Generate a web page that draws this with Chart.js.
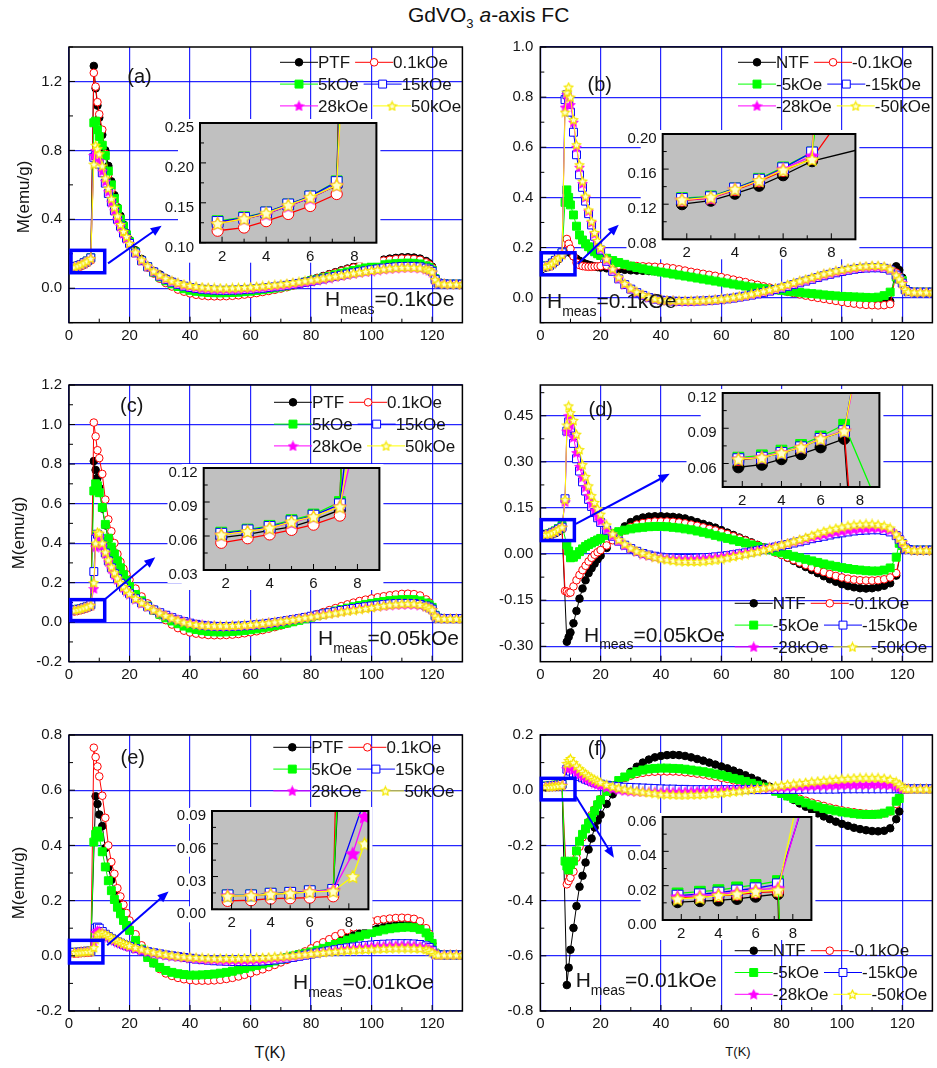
<!DOCTYPE html>
<html>
<head>
<meta charset="utf-8">
<title>GdVO3 a-axis FC</title>
<script src="https://cdn.jsdelivr.net/npm/chart.js@4.4.1/dist/chart.umd.min.js"></script>
<style>
  html, body { margin: 0; padding: 0; background: #fff; }
  body { position: relative; width: 937px; height: 1068px; overflow: hidden;
         font-family: "Liberation Sans", Arial, Helvetica, sans-serif; color: #111; }
  .lbl { position: absolute; white-space: nowrap; z-index: 5; }
  .ytitle { font-size: 17px; line-height: 17px; transform: translate(-50%, -50%) rotate(-90deg); }
</style>
</head>
<body>
<div class="lbl" style="left:408px;top:4px;font-size:21px;line-height:21px;">GdVO<span style="font-size:13px;position:relative;top:6px;">3</span> <i>a</i>-axis FC</div>
<div class="lbl ytitle" style="left:23px;top:197px;">M(emu/g)</div>
<div class="lbl ytitle" style="left:18px;top:533px;">M(emu/g)</div>
<div class="lbl ytitle" style="left:18px;top:883px;">M(emu/g)</div>
<div class="lbl" style="left:270px;top:1053px;font-size:16px;line-height:16px;transform:translate(-50%,-50%);">T(K)</div>
<div class="lbl" style="left:738px;top:1051px;font-size:13px;line-height:13px;transform:translate(-50%,-50%);">T(K)</div>
<script>
// temperature grid shared by every curve (K)
const temps = [1.8,3,4,5,6,7.2, 8.2,8.8,9.4,10, 11,12,13,14,15,16,17,18,19,20,
  22,24,26,28,30,32,34,36,38,40, 42,44,46,48,50,52,54,56,58,60, 62,64,66,68,70,72,74,76,78,80,
  82,84,86,88,90,92,94,96,98,100, 102,104,106,108,110,112,114,116,118, 119,120,121,122, 124,126,128,130];

// (a) Hmeas = 0.1 kOe, positive cooling fields
const aPTF = [.125,.130,.136,.146,.156,.172, 1.29,1.16,1.06,.99, .89,.80,.71,.62,.54,.47,.42,.37,.32,.28, .22,.17,.13,.10,.08,.058,.04,.024,.01,-.002, -.012,-.019,-.024,-.027,-.029,-.03,-.029,-.027,-.024,-.021, -.017,-.012,-.007,-.001,.005,.013,.021,.03,.04,.05, .06,.071,.082,.093,.104,.114,.124,.134,.143,.151, .159,.166,.172,.176,.179,.18,.178,.172,.158, .145,.125,.06,.03, .025,.024,.024,.024];
const a01 = [.115,.119,.127,.136,.146,.161, 1.25,1.17,1.08,1.01, .92,.78,.66,.57,.49,.43,.38,.34,.30,.27, .21,.16,.12,.085,.055,.03,.01,-.008,-.02,-.03, -.038,-.043,-.046,-.047,-.047,-.046,-.044,-.041,-.037,-.033, -.028,-.022,-.016,-.009,-.002,.006,.015,.025,.035,.046, .057,.068,.079,.09,.10,.11,.12,.129,.138,.146, .153,.16,.165,.169,.172,.172,.17,.165,.15, .138,.12,.06,.03, .025,.024,.024,.024];
const a5 = [.127,.132,.138,.148,.158,.177, .96,.97,.92,.88, .83,.77,.68,.60,.52,.46,.40,.36,.31,.27, .21,.16,.125,.092,.065,.043,.025,.01,-.003,-.012, -.018,-.022,-.025,-.026,-.027,-.026,-.025,-.023,-.02,-.017, -.013,-.009,-.004,.001,.007,.013,.02,.027,.035,.043, .051,.06,.069,.078,.087,.095,.103,.111,.118,.125, .131,.136,.14,.143,.145,.146,.145,.141,.13, .12,.105,.055,.03, .025,.024,.024,.024];
const a15 = [.126,.131,.138,.148,.158,.176, .76,.77,.75,.72, .67,.61,.55,.50,.45,.40,.36,.32,.29,.26, .205,.16,.125,.095,.07,.05,.035,.022,.012,.004, -.002,-.006,-.009,-.011,-.012,-.012,-.011,-.01,-.008,-.006, -.003,0,.004,.008,.012,.017,.022,.028,.034,.04, .047,.054,.061,.068,.075,.082,.089,.095,.101,.107, .112,.117,.121,.124,.126,.127,.127,.124,.117, .11,.098,.05,.03, .025,.024,.024,.024];
const a28 = [.124,.130,.136,.146,.156,.172, .77,.80,.78,.74, .68,.62,.56,.50,.45,.40,.36,.32,.29,.26, .205,.16,.126,.097,.073,.054,.039,.027,.017,.009, .003,-.001,-.004,-.006,-.007,-.007,-.006,-.005,-.003,-.001, .002,.005,.008,.012,.016,.02,.025,.03,.035,.041, .047,.053,.059,.066,.072,.078,.084,.09,.095,.10, .105,.109,.113,.116,.118,.119,.118,.116,.11, .104,.093,.048,.03, .025,.024,.024,.024];
const a50 = [.124,.130,.137,.147,.157,.172, .72,.83,.81,.78, .71,.64,.58,.52,.47,.42,.37,.33,.30,.26, .21,.165,.13,.10,.077,.058,.043,.032,.023,.016, .011,.007,.004,.002,.001,.001,.002,.003,.005,.007, .01,.013,.016,.02,.024,.028,.033,.038,.043,.048, .053,.059,.065,.07,.076,.082,.088,.093,.098,.103, .108,.112,.116,.119,.121,.122,.121,.118,.112, .106,.095,.05,.03, .025,.024,.024,.024];

// (b) Hmeas = 0.1 kOe, negative cooling fields
const bNTF = [.120,.124,.132,.141,.153,.169, null,null,.184,.178, .165,.155,.147,.14,.135,.131,.128,.125,.122,.12, .117,.115,.113,.111,.109,.108,.107,.106,.105,.104, .102,.099,.096,.093,.09,.087,.083,.079,.075,.071, .067,.063,.059,.055,.05,.046,.042,.038,.033,.029, .025,.021,.017,.013,.009,.005,.001,-.003,-.006,-.009, -.012,-.015,-.017,-.019,-.02,-.02,-.019,-.015,.125, .11,.08,.035,.025, .022,.022,.022,.022];
const b01 = [.124,.127,.136,.146,.158,.172, null,.234,.215,.195, .165,.14,.13,.126,.124,.123,.123,.124,.125,.126, .127,.128,.128,.128,.127,.126,.125,.124,.123,.122, .12,.117,.113,.108,.103,.099,.095,.091,.087,.082, .077,.072,.067,.062,.056,.051,.045,.04,.034,.029, .023,.018,.013,.008,.003,-.001,-.005,-.009,-.013,-.017, -.021,-.024,-.027,-.029,-.03,-.031,-.03,-.026,.10, .085,.07,.035,.025, .022,.022,.022,.022];
const b5 = [.127,.129,.138,.149,.162,.179, .38,.43,.40,.37, .33,.285,.25,.23,.215,.203,.192,.183,.175,.168, .157,.148,.14,.133,.126,.12,.115,.11,.106,.102, .098,.094,.09,.086,.082,.078,.074,.07,.066,.062, .058,.054,.05,.046,.042,.039,.036,.033,.031,.029, .026,.023,.021,.018,.016,.014,.011,.009,.007,.005, .004,.003,.002,.001,0,.002,.008,.022,.082, .075,.068,.032,.024, .022,.022,.022,.022];
const b15 = [.126,.128,.138,.148,.161,.179, .79,.81,.78,.74, .66,.57,.49,.44,.385,.335,.29,.245,.215,.19, .145,.105,.075,.052,.034,.02,.009,0,-.006,-.01, -.012,-.014,-.015,-.015,-.015,-.014,-.013,-.012,-.01,-.008, -.005,-.002,.002,.006,.01,.015,.02,.026,.032,.038, .045,.052,.059,.066,.073,.08,.087,.093,.099,.104, .109,.113,.116,.118,.119,.119,.117,.11,.09, .075,.058,.032,.024, .022,.022,.022,.022];
const b28 = [.125,.127,.137,.147,.16,.175, .76,.81,.80,.77, .70,.60,.52,.455,.40,.345,.30,.255,.222,.195, .15,.11,.078,.054,.035,.021,.01,.001,-.005,-.009, -.011,-.013,-.014,-.014,-.014,-.013,-.012,-.01,-.008,-.006, -.003,0,.004,.008,.013,.018,.023,.029,.035,.042, .049,.056,.063,.07,.077,.084,.091,.097,.103,.108, .113,.117,.12,.122,.123,.123,.121,.114,.092, .077,.06,.032,.024, .022,.022,.022,.022];
const b50 = [.125,.128,.137,.147,.159,.171, .74,.82,.84,.80, .71,.61,.53,.465,.405,.35,.305,.26,.228,.20, .155,.115,.082,.057,.038,.023,.012,.003,-.004,-.008, -.01,-.011,-.012,-.012,-.012,-.011,-.01,-.009,-.007,-.005, -.002,.002,.006,.01,.015,.02,.026,.032,.038,.045, .052,.06,.067,.074,.081,.088,.095,.101,.107,.112, .117,.121,.124,.126,.128,.128,.125,.115,.09, .075,.057,.032,.024, .022,.022,.022,.022];

// (c) Hmeas = 0.05 kOe, positive cooling fields
const cPTF = [.0586,.0614,.065,.068,.074,.083, .815,.77,.73,.68, .575,.49,.42,.375,.34,.305,.27,.237,.207,.178, .135,.105,.08,.058,.04,.022,.007,-.006,-.017,-.026, -.033,-.038,-.041,-.043,-.044,-.044,-.043,-.041,-.038,-.035, -.031,-.026,-.021,-.015,-.009,-.002,.005,.012,.02,.028, .036,.044,.052,.06,.068,.076,.083,.09,.097,.103, .108,.113,.117,.12,.122,.122,.12,.113,.10, .09,.075,.035,.02, .018,.018,.018,.018];
const c01 = [.054,.058,.0614,.0654,.070,.078, 1.01,.94,.87,.83, .75,.62,.52,.46,.40,.345,.305,.27,.242,.215, .17,.13,.095,.065,.035,.01,-.012,-.03,-.043,-.052, -.058,-.062,-.065,-.066,-.066,-.065,-.063,-.06,-.056,-.051, -.046,-.04,-.033,-.025,-.017,-.008,.001,.011,.021,.031, .041,.051,.061,.071,.081,.09,.099,.107,.114,.12, .126,.131,.136,.14,.143,.144,.142,.135,.115, .10,.077,.035,.02, .018,.018,.018,.018];
const c5 = [.063,.0657,.069,.074,.079,.09, .664,.70,.69,.655, .58,.495,.425,.38,.345,.31,.275,.24,.21,.18, .14,.108,.082,.06,.04,.022,.006,-.008,-.02,-.03, -.037,-.043,-.047,-.049,-.05,-.049,-.047,-.045,-.042,-.038, -.034,-.029,-.024,-.018,-.012,-.005,.002,.009,.017,.025, .033,.041,.049,.057,.064,.071,.078,.084,.09,.095, .10,.105,.109,.112,.114,.115,.114,.108,.097, .088,.075,.035,.02, .018,.018,.018,.018];
const c15 = [.062,.065,.068,.073,.078,.088, .256,.42,.445,.435, .39,.35,.31,.275,.245,.22,.197,.177,.16,.144, .118,.097,.078,.062,.048,.035,.023,.012,.003,-.005, -.011,-.016,-.019,-.021,-.022,-.022,-.021,-.02,-.018,-.016, -.013,-.01,-.006,-.002,.003,.008,.013,.018,.024,.03, .036,.042,.048,.053,.059,.064,.069,.074,.078,.082, .086,.089,.092,.094,.095,.095,.094,.09,.082, .076,.066,.032,.02, .018,.018,.018,.018];
const c28 = [.061,.064,.067,.072,.077,.086, .17,.38,.44,.43, .385,.345,.305,.27,.24,.215,.193,.174,.157,.142, .117,.096,.078,.062,.048,.036,.024,.013,.004,-.004, -.01,-.014,-.017,-.019,-.02,-.02,-.019,-.018,-.016,-.014, -.011,-.008,-.004,0,.004,.009,.014,.019,.024,.029, .035,.04,.045,.05,.055,.06,.065,.069,.073,.077, .08,.083,.086,.088,.089,.09,.089,.086,.079, .073,.064,.031,.02, .018,.018,.018,.018];
const c50 = [.061,.064,.067,.0726,.077,.0857, .20,.40,.455,.45, .40,.355,.315,.28,.25,.223,.20,.18,.162,.146, .12,.098,.079,.062,.047,.033,.021,.01,0,-.007, -.012,-.015,-.017,-.018,-.018,-.018,-.017,-.016,-.014,-.012, -.009,-.006,-.003,.001,.005,.009,.013,.018,.023,.027, .032,.037,.042,.047,.052,.057,.061,.066,.07,.074, .08,.084,.088,.091,.093,.094,.093,.089,.08, .072,.063,.031,.02, .018,.018,.018,.018];

// (d) Hmeas = 0.05 kOe, negative cooling fields
const dNTF = [.0568,.059,.0637,.068,.0738,.081, null,-.285,-.27,-.255, -.225,-.185,-.145,-.112,-.085,-.062,-.046,-.031,-.017,-.005, .02,.047,.072,.09,.104,.113,.119,.122,.123,.123, .122,.121,.119,.116,.11,.104,.098,.092,.086,.078, .07,.062,.054,.046,.038,.03,.022,.014,.006,-.002, -.012,-.022,-.032,-.042,-.052,-.062,-.072,-.082,-.09,-.098, -.104,-.108,-.111,-.112,-.111,-.108,-.103,-.095,-.07, null,.03,.02,.015, .013,.013,.013,.013];
const d01 = [.063,.065,.069,.0738,.081,.0876, -.12,-.122,-.127,-.125, -.105,-.085,-.068,-.052,-.038,-.024,-.012,-.002,.006,.013, .028,.045,.062,.077,.088,.096,.101,.104,.106,.106, .106,.105,.103,.10,.096,.092,.087,.082,.077,.071, .065,.058,.051,.044,.036,.029,.021,.013,.005,-.003, -.011,-.019,-.027,-.035,-.043,-.051,-.058,-.065,-.071,-.076, -.08,-.083,-.085,-.086,-.086,-.085,-.082,-.076,-.062, null,.03,.02,.015, .013,.013,.013,.013];
const d5 = [.065,.067,.071,.0758,.083,.093, null,.03,.01,-.012, -.01,-.002,.008,.017,.025,.031,.036,.041,.046,.051, .06,.067,.073,.078,.082,.085,.087,.089,.09,.09, .089,.087,.085,.082,.079,.075,.071,.066,.061,.056, .051,.046,.041,.036,.03,.025,.02,.014,.009,.004, -.001,-.007,-.012,-.017,-.022,-.027,-.032,-.036,-.04,-.044, -.047,-.05,-.052,-.054,-.055,-.055,-.052,-.045,-.01, .035,.028,.018,.015, .013,.013,.013,.013];
const d15 = [.0637,.065,.069,.0738,.081,.0876, .18,.40,.43,.41, .36,.31,.27,.235,.205,.178,.155,.135,.118,.103, .078,.058,.042,.029,.018,.009,.002,-.003,-.007,-.01, -.012,-.013,-.014,-.014,-.014,-.013,-.012,-.011,-.009,-.007, -.005,-.002,.001,.004,.007,.011,.015,.019,.023,.027, .031,.036,.04,.045,.05,.054,.058,.062,.066,.069, .072,.075,.077,.078,.079,.079,.077,.072,.06, .048,.035,.02,.015, .013,.013,.013,.013];
const d28 = [.064,.0655,.0695,.074,.0815,.088, .17,.40,.45,.42, .38,.33,.285,.25,.218,.19,.165,.143,.124,.108, .081,.06,.043,.029,.018,.008,0,-.005,-.009,-.012, -.014,-.015,-.016,-.016,-.016,-.015,-.014,-.012,-.01,-.008, -.005,-.002,.001,.005,.009,.013,.017,.021,.026,.03, .035,.04,.045,.05,.055,.06,.064,.068,.072,.075, .078,.081,.083,.084,.085,.085,.083,.078,.065, .052,.038,.02,.015, .013,.013,.013,.013];
const d50 = [.0637,.065,.069,.0738,.081,.0876, .177,.42,.482,.46, .435,.39,.34,.291,.252,.222,.19,.168,.148,.13, .095,.066,.047,.033,.02,.01,.003,-.004,-.01,-.015, -.018,-.021,-.023,-.024,-.024,-.024,-.023,-.021,-.019,-.016, -.012,-.008,-.004,0,.004,.008,.013,.018,.024,.03, .036,.042,.048,.054,.061,.068,.074,.079,.084,.088, .092,.095,.097,.098,.098,.096,.092,.085,.065, .052,.041,.022,.015, .013,.013,.013,.013];

// (e) Hmeas = 0.01 kOe, positive cooling fields
const ePTF = [.0125,.0127,.014,.0148,.0163,.0175, null,.578,.55,.512, .47,.39,.32,.275,.235,.20,.17,.142,.117,.094, .055,.022,-.005,-.027,-.043,-.054,-.062,-.068,-.072,-.075, -.077,-.077,-.076,-.074,-.071,-.067,-.062,-.057,-.051,-.045, -.037,-.031,-.025,-.018,-.012,-.005,.001,.007,.013,.019, .026,.034,.042,.05,.058,.066,.074,.081,.088,.094, .099,.104,.108,.111,.112,.112,.109,.102,.088, .07,.045,.01,.004, .003,.003,.003,.003];
const e01 = [.0077,.0083,.0098,.0101,.0107,.0119, .754,.72,.686,.65, .58,.50,.40,.34,.297,.245,.215,.185,.155,.128, .078,.038,.006,-.024,-.048,-.064,-.073,-.08,-.085,-.088, -.09,-.09,-.09,-.089,-.087,-.084,-.08,-.075,-.069,-.063, -.056,-.049,-.041,-.033,-.024,-.015,-.005,.005,.016,.027, .038,.049,.06,.071,.082,.093,.103,.112,.119,.125, .129,.132,.135,.137,.138,.137,.134,.125,.10, .08,.045,.01,.004, .003,.003,.003,.003];
const e5 = [.0128,.0128,.0143,.0151,.0166,.0178, .412,.44,.452,.43, .377,.322,.272,.236,.204,.176,.152,.128,.11,.092, .056,.024,-.006,-.026,-.042,-.053,-.06,-.065,-.068,-.07, -.07,-.069,-.068,-.066,-.063,-.06,-.056,-.051,-.046,-.04, -.035,-.03,-.025,-.019,-.013,-.007,-.001,.004,.009,.014, .02,.027,.034,.041,.049,.057,.064,.071,.078,.084, .089,.094,.098,.101,.103,.104,.102,.096,.083, .07,.045,.01,.004, .003,.003,.003,.003];
const e15 = [.0128,.0128,.0143,.0151,.0166,.0178, null,.10,.104,.10, .088,.078,.07,.063,.057,.051,.046,.041,.037,.033, .026,.02,.015,.011,.007,.003,0,-.003,-.006,-.009, -.012,-.014,-.016,-.018,-.019,-.02,-.021,-.021,-.021,-.021, -.02,-.019,-.017,-.015,-.012,-.009,-.006,-.002,.002,.006, .01,.014,.018,.022,.026,.029,.032,.035,.037,.039, .041,.042,.043,.044,.044,.044,.043,.041,.036, .03,.02,.006,.003, .003,.003,.003,.003];
const e28 = [.0125,.0127,.014,.0148,.0163,.0175, .051,.085,.092,.09, .083,.075,.068,.061,.055,.05,.045,.04,.036,.032, .025,.019,.014,.01,.006,.002,-.001,-.004,-.006,-.008, -.01,-.012,-.013,-.014,-.015,-.016,-.016,-.016,-.016,-.015, -.014,-.013,-.011,-.009,-.007,-.004,-.001,.002,.005,.008, .011,.014,.017,.02,.023,.026,.028,.03,.032,.034, .035,.036,.037,.038,.038,.038,.037,.035,.031, .026,.018,.006,.003, .003,.003,.003,.003];
const e50 = [.012,.0125,.0138,.0146,.016,.0166, .03,.06,.075,.082, .083,.078,.072,.066,.06,.055,.05,.045,.041,.037, .03,.024,.018,.013,.009,.005,.002,-.001,-.003,-.005, -.006,-.007,-.008,-.009,-.009,-.009,-.009,-.009,-.008,-.008, -.007,-.006,-.005,-.003,-.002,0,.002,.004,.006,.008, .01,.012,.014,.016,.018,.02,.021,.022,.023,.024, .025,.026,.027,.028,.028,.028,.027,.026,.023, .019,.013,.005,.003, .003,.003,.003,.003];

// (f) Hmeas = 0.01 kOe, negative cooling fields
const fNTF = [.0104,.011,.0114,.0123,.0136,.0151, null,-.706,-.643,-.578, -.499,-.42,-.35,-.31,-.262,-.215,-.175,-.135,-.11,-.089, -.05,-.015,.017,.045,.067,.085,.10,.111,.119,.124, .127,.128,.127,.124,.119,.113,.107,.10,.093,.086, .079,.071,.063,.054,.045,.035,.024,.013,.002,-.01, -.022,-.035,-.048,-.06,-.072,-.084,-.095,-.105,-.114,-.122, -.129,-.136,-.141,-.145,-.148,-.149,-.147,-.138,-.105, -.077,.005,.005,.005, .005,.005,.005,.005];
const f01 = [.013,.0135,.014,.0148,.016,.0165, null,-.341,-.329,-.317, -.295,-.245,-.205,-.171,-.14,-.115,-.09,-.07,-.05,-.032, -.005,.017,.033,.045,.053,.059,.063,.066,.067,.068, .068,.068,.067,.065,.063,.06,.057,.053,.049,.045, .041,.036,.031,.026,.021,.015,.009,.003,-.003,-.01, -.017,-.024,-.031,-.038,-.045,-.051,-.057,-.063,-.068,-.073, -.077,-.08,-.083,-.085,-.086,-.086,-.084,-.077,-.05, -.03,.005,.005,.005, .005,.005,.005,.005];
const f5 = [.0155,.0165,.0174,.019,.0204,.0227, -.257,-.275,-.289,-.27, -.257,-.22,-.185,-.16,-.14,-.12,-.10,-.075,-.053,-.035, -.004,.017,.035,.048,.059,.067,.073,.077,.079,.08, .08,.079,.078,.076,.073,.07,.067,.063,.059,.055, .049,.043,.038,.032,.025,.018,.011,.004,-.004,-.012, -.021,-.03,-.038,-.046,-.053,-.06,-.066,-.071,-.075,-.079, -.082,-.085,-.087,-.088,-.088,-.087,-.083,-.075,-.04, -.03,.005,.005,.005, .005,.005,.005,.005];
const f15 = [.0142,.015,.016,.0172,.0185,.0208, null,.076,.072,.069, .062,.056,.05,.045,.04,.036,.032,.028,.025,.022, .018,.015,.013,.011,.01,.009,.008,.007,.006,.005, .004,.004,.003,.003,.002,.002,.002,.002,.002,.002, .002,.002,.002,.002,.002,.002,.002,.003,.003,.003, .003,.003,.003,.004,.004,.004,.004,.004,.004,.005, .005,.005,.005,.005,.005,.005,.005,.005,.005, .005,.005,.005,.005, .005,.005,.005,.005];
const f28 = [.0136,.014,.015,.0162,.0175,.0185, null,.078,.085,.083, .074,.065,.057,.05,.043,.037,.031,.026,.021,.017, .01,.005,.001,-.002,-.004,-.005,-.006,-.006,-.006,-.006, -.006,-.006,-.005,-.005,-.004,-.003,-.002,-.001,0,.001, .002,.003,.004,.005,.006,.007,.008,.009,.01,.011, .012,.013,.014,.015,.016,.017,.018,.018,.019,.019, .02,.02,.02,.02,.021,.021,.02,.019,.015, .01,.005,.005,.005, .005,.005,.005,.005];
const f50 = [.0123,.013,.0142,.0152,.0167,.0174, null,.097,.108,.115, .10,.088,.078,.068,.06,.052,.045,.039,.034,.029, .02,.013,.008,.004,0,-.003,-.006,-.009,-.011,-.014, -.015,-.016,-.017,-.017,-.016,-.016,-.015,-.013,-.012,-.01, -.008,-.005,-.003,0,.003,.006,.009,.012,.015,.018, .021,.023,.026,.028,.031,.033,.035,.037,.039,.041, .042,.044,.045,.045,.045,.045,.043,.039,.03, .022,.012,.006,.005, .005,.005,.005,.005];

const namesPos = ['PTF', '0.1kOe', '5kOe', '15kOe', '28kOe', '50kOe'];
const namesNeg = ['NTF', '-0.1kOe', '-5kOe', '-15kOe', '-28kOe', '-50kOe'];

const xTicks = [0, 20, 40, 60, 80, 100, 120];
const insetXTicks = [2, 4, 6, 8];
const yTicksA = [0, 0.4, 0.8, 1.2];
const yTicksB = [0, 0.2, 0.4, 0.6, 0.8, 1.0];
const yTicksC = [-0.2, 0, 0.2, 0.4, 0.6, 0.8, 1.0, 1.2];
const yTicksD = [-0.3, -0.15, 0, 0.15, 0.3, 0.45];
const yTicksE = [-0.2, 0, 0.2, 0.4, 0.6, 0.8];
const yTicksF = [-0.8, -0.6, -0.4, -0.2, 0, 0.2];
const insetTicksA = [0.10, 0.15, 0.20, 0.25];
const insetTicksB = [0.08, 0.12, 0.16, 0.20];
const insetTicksC = [0.03, 0.06, 0.09, 0.12];
const insetTicksD = [0.06, 0.09, 0.12];
const insetTicksE = [0, 0.03, 0.06, 0.09];
const insetTicksF = [0, 0.02, 0.04, 0.06];

const FONT = '"Liberation Sans", Arial, Helvetica, sans-serif';
const GRID = 'rgba(0,0,255,0.85)';
const INK = '#151515';

// marker looks for the six curves of every panel
const looks = [
  {line: '#000000', shape: 'circle', fill: '#000000', edge: '#000000'},
  {line: '#ff0000', shape: 'circle', fill: '#ffffff', edge: '#ff0000'},
  {line: '#00ff00', shape: 'rect',   fill: '#00ff00', edge: '#00ff00'},
  {line: '#0000ff', shape: 'rect',   fill: '#ffffff', edge: '#0000ff'},
  {line: '#ff00ff', shape: 'star',   fill: '#ff00ff', edge: '#ff00ff'},
  {line: '#ffff00', shape: 'star',   fill: '#ffffd0', edge: '#f5e800'},
];
const sizes = {
  main:  {circle: 3.8, rect: 5.6, star: 11},
  inset: {circle: 5.6, rect: 7.6, star: 15},
};

function starCanvas(size, fill, stroke) {
  const c = document.createElement('canvas');
  c.width = c.height = size;
  const g = c.getContext('2d');
  const r = size / 2 - 1, cx = size / 2, cy = size / 2 + r * 0.1;
  g.beginPath();
  for (let i = 0; i < 10; i++) {
    const ang = -Math.PI / 2 + i * Math.PI / 5;
    const rr = i % 2 ? r * 0.5 : r;
    g.lineTo(cx + rr * Math.cos(ang), cy + rr * Math.sin(ang));
  }
  g.closePath();
  g.fillStyle = fill; g.fill();
  g.lineWidth = 1.2; g.strokeStyle = stroke; g.stroke();
  return c;
}
const starImgs = {main: [], inset: []};
for (const kind of ['main', 'inset']) {
  looks.forEach((lk, i) => {
    starImgs[kind][i] = lk.shape === 'star' ? starCanvas(sizes[kind].star, lk.fill, lk.edge) : null;
  });
}

function marker(ctx, i, x, y, kind) {
  const lk = looks[i], r = sizes[kind][lk.shape];
  if (lk.shape === 'star') {
    const im = starImgs[kind][i];
    ctx.drawImage(im, x - im.width / 2, y - im.height / 2);
    return;
  }
  ctx.beginPath();
  if (lk.shape === 'circle') ctx.arc(x, y, r, 0, Math.PI * 2);
  else { const s = r * Math.SQRT1_2; ctx.rect(x - s, y - s, 2 * s, 2 * s); }
  ctx.fillStyle = lk.fill; ctx.fill();
  ctx.lineWidth = 1; ctx.strokeStyle = lk.edge; ctx.stroke();
}

function datasets(series, kind) {
  return series.map((vals, i) => {
    const lk = looks[i];
    return {
      data: temps.map((t, k) => ({x: t, y: vals[k]})),
      borderColor: lk.line,
      borderWidth: kind === 'main' ? 1 : 1.3,
      backgroundColor: lk.fill,
      pointBackgroundColor: lk.fill,
      pointBorderColor: lk.edge,
      pointBorderWidth: 1,
      pointStyle: lk.shape === 'star' ? starImgs[kind][i] : lk.shape,
      pointRadius: lk.shape === 'star' ? 5 : sizes[kind][lk.shape],
      tension: 0,
      spanGaps: true,
      order: 5 - i,
    };
  });
}

function drawArrow(ctx, x0, y0, x1, y1) {
  const ang = Math.atan2(y1 - y0, x1 - x0), head = 11, half = 4.5;
  const c = Math.cos(ang), s = Math.sin(ang);
  ctx.strokeStyle = '#0000ff'; ctx.fillStyle = '#0000ff'; ctx.lineWidth = 2;
  ctx.beginPath(); ctx.moveTo(x0, y0); ctx.lineTo(x1 - head * 0.8 * c, y1 - head * 0.8 * s); ctx.stroke();
  ctx.beginPath();
  ctx.moveTo(x1, y1);
  ctx.lineTo(x1 - head * c + half * s, y1 - head * s - half * c);
  ctx.lineTo(x1 - head * c - half * s, y1 - head * s + half * c);
  ctx.closePath(); ctx.fill();
}

function drawLegend(ctx, x0, y0, names) {
  ctx.font = '17px ' + FONT;
  ctx.textBaseline = 'middle'; ctx.textAlign = 'left';
  for (let r = 0; r < 3; r++) {
    let cx = x0;
    const cy = y0 + r * 21.8;
    for (let c = 0; c < 2; c++) {
      const i = r * 2 + c;
      ctx.strokeStyle = looks[i].line; ctx.lineWidth = 1;
      ctx.beginPath(); ctx.moveTo(cx, cy); ctx.lineTo(cx + 38, cy); ctx.stroke();
      marker(ctx, i, cx + 19, cy, 'main');
      ctx.fillStyle = INK;
      ctx.fillText(names[i], cx + 38, cy + 1);
      cx += 38 + ctx.measureText(names[i]).width + 5;
    }
  }
}

function inwardTicks(ctx, a, y, ticks, minor, ymin, ymax, x, xMajor, xMinor, xMax) {
  ctx.beginPath();
  for (let v = xMinor; v < xMax - 1e-9; v += xMinor) {
    const px = x.getPixelForValue(v);
    if (px <= a.left + 1) continue;
    const len = Math.abs(v / xMajor - Math.round(v / xMajor)) < 1e-9 ? 6 : 4;
    ctx.moveTo(px, a.bottom); ctx.lineTo(px, a.bottom - len);
  }
  const base = ticks[0];
  for (let k = -40; k <= 40; k++) {
    const v = base + k * minor;
    if (v < ymin - 1e-9 || v > ymax + 1e-9) continue;
    const py = y.getPixelForValue(v);
    const major = ticks.some(t => Math.abs(t - v) < 1e-9);
    ctx.moveTo(a.left, py); ctx.lineTo(a.left + (major ? 6 : 4), py);
  }
  ctx.stroke();
}

function addCanvas(left, top, w, h, z) {
  const c = document.createElement('canvas');
  c.width = w; c.height = h;
  c.style.cssText = 'position:absolute;left:' + left + 'px;top:' + top + 'px;width:' + w + 'px;height:' + h + 'px;z-index:' + z + ';';
  document.body.appendChild(c);
  return c;
}

const panels = [
  {key: 'a', area: [69, 45.7, 466, 322.7], ymin: -0.2, ymax: 1.4, yTicks: yTicksA, yMinor: 0.2, digits: 1,
   series: [aPTF, a01, a5, a15, a28, a50], names: namesPos, legend: [280, 62.3], tag: [139.5, 77], hm: [325, 306, '0.1kOe'],
   box: [0.66, 11.8, 0.09, 0.22], arrow: [12.9, 0.144, 30.6, 0.363],
   inset: {area: [200, 120.7, 378.3, 242.7], ymin: 0.10, ymax: 0.25, yTicks: insetTicksA, yMinor: 0.025}},
  {key: 'b', area: [540.3, 45.7, 936, 322.7], ymin: -0.1, ymax: 1.0, yTicks: yTicksB, yMinor: 0.1, digits: 1,
   series: [bNTF, b01, b5, b15, b28, b50], names: namesNeg, legend: [738, 62.3], tag: [599.7, 85], hm: [547, 308, '0.1kOe'],
   box: [0.33, 11.5, 0.091, 0.179], arrow: [12.4, 0.134, 26.0, 0.291],
   inset: {area: [662.7, 131.7, 857.3, 239.3], ymin: 0.08, ymax: 0.20, yTicks: insetTicksB, yMinor: 0.02}},
  {key: 'c', area: [69, 383.3, 466, 661.7], ymin: -0.2, ymax: 1.2, yTicks: yTicksC, yMinor: 0.1, digits: 1,
   series: [cPTF, c01, c5, c15, c28, c50], names: namesPos, legend: [274, 402.3], tag: [131.7, 406.7], hm: [318, 645, '0.05kOe'],
   box: [0.56, 11.8, 0.008, 0.114], arrow: [12.1, 0.119, 28.5, 0.329],
   inset: {area: [203.7, 465, 382, 570], ymin: 0.03, ymax: 0.12, yTicks: insetTicksC, yMinor: 0.015}},
  {key: 'd', area: [540.3, 383.3, 936, 661.7], ymin: -0.35, ymax: 0.55, yTicks: yTicksD, yMinor: 0.075, digits: 2,
   series: [dNTF, d01, d5, d15, d28, d50], names: namesNeg, legend: [734.7, 603.3], tag: [600.7, 410.7], hm: [584, 641.7, '0.05kOe'],
   box: [0.33, 11.3, 0.044, 0.112], arrow: [11.8, 0.098, 42.9, 0.261],
   inset: {area: [722.7, 390, 881.3, 487], ymin: 0.04, ymax: 0.12, yTicks: insetTicksD, yMinor: 0.015}},
  {key: 'e', area: [69, 733.3, 466, 1011], ymin: -0.2, ymax: 0.8, yTicks: yTicksE, yMinor: 0.1, digits: 1,
   series: [ePTF, e01, e5, e15, e28, e50], names: namesPos, legend: [273.3, 747.3], tag: [132.7, 758.3], hm: [293, 989, '0.01kOe'],
   box: [0.15, 11.2, -0.026, 0.056], arrow: [12.6, 0.038, 32.9, 0.233],
   inset: {area: [212, 808.3, 370.7, 909.3], ymin: 0, ymax: 0.09, yTicks: insetTicksE, yMinor: 0.015}},
  {key: 'f', area: [540.3, 733, 936, 1011], ymin: -0.8, ymax: 0.2, yTicks: yTicksF, yMinor: 0.1, digits: 1,
   series: [fNTF, f01, f5, f15, f28, f50], names: namesNeg, legend: [734.7, 950.7], tag: [597.3, 749.3], hm: [575.7, 987, '0.01kOe'],
   box: [0.33, 11.5, -0.035, 0.043], arrow: [11.8, -0.023, 24.4, -0.245],
   inset: {area: [662.7, 814.3, 813.3, 920], ymin: 0, ymax: 0.06, yTicks: insetTicksF, yMinor: 0.01}},
];

function tickFont() { return {family: FONT, size: 15}; }

function buildMain(p) {
  const [L, T, R, B] = p.area;
  const left = Math.floor(L) - 66, top = Math.floor(T) - 14;
  const w = Math.ceil(R - left + 3), h = Math.ceil(B - top + 30);
  const cv = addCanvas(left, top, w, h, 1);
  const decor = {
    id: 'decor' + p.key,
    afterDatasetsDraw(chart) {
      const {ctx, chartArea: a} = chart;
      const x = chart.scales.x, y = chart.scales.y;
      ctx.save();
      ctx.strokeStyle = '#000'; ctx.lineWidth = 1;
      inwardTicks(ctx, a, y, p.yTicks, p.yMinor, p.ymin, p.ymax, x, 20, 10, 130);
      ctx.lineWidth = 1.5;
      ctx.strokeRect(a.left, a.top, a.right - a.left, a.bottom - a.top);
      const [t0, t1, m0, m1] = p.box;
      const bx = x.getPixelForValue(t0), by = y.getPixelForValue(m1);
      ctx.strokeStyle = '#0000ff'; ctx.lineWidth = 3.5;
      ctx.strokeRect(bx, by, x.getPixelForValue(t1) - bx, y.getPixelForValue(m0) - by);
      const [u0, n0, u1, n1] = p.arrow;
      drawArrow(ctx, x.getPixelForValue(u0), y.getPixelForValue(n0), x.getPixelForValue(u1), y.getPixelForValue(n1));
      ctx.restore();
    },
    afterDraw(chart) {
      const ctx = chart.ctx;
      ctx.save();
      drawLegend(ctx, p.legend[0] - left, p.legend[1] - top, p.names);
      ctx.fillStyle = INK;
      ctx.font = '20px ' + FONT; ctx.textAlign = 'center'; ctx.textBaseline = 'middle';
      ctx.fillText('(' + p.key + ')', p.tag[0] - left, p.tag[1] - top);
      ctx.textAlign = 'left'; ctx.textBaseline = 'alphabetic';
      let hx = p.hm[0] - left;
      const hy = p.hm[1] - top;
      ctx.font = '21px ' + FONT; ctx.fillText('H', hx, hy); hx += ctx.measureText('H').width;
      ctx.font = '14px ' + FONT; ctx.fillText('meas', hx, hy + 7.5); hx += ctx.measureText('meas').width;
      ctx.font = '21px ' + FONT; ctx.fillText('=' + p.hm[2], hx, hy);
      ctx.restore();
    }
  };
  new Chart(cv.getContext('2d'), {
    type: 'line',
    data: {datasets: datasets(p.series, 'main')},
    options: {
      responsive: false, animation: false, devicePixelRatio: 1, events: [],
      layout: {padding: {left: 0, top: T - top, right: w - (R - left), bottom: 0}},
      plugins: {legend: {display: false}, tooltip: {enabled: false}},
      scales: {
        x: {
          type: 'linear', min: 0, max: 130,
          afterBuildTicks: s => { s.ticks = xTicks.map(v => ({value: v})); },
          afterFit: s => { s.height = h - (B - top); },
          grid: {color: GRID, lineWidth: 1.2, drawTicks: false},
          border: {display: false},
          ticks: {autoSkip: false, maxRotation: 0, padding: 4, color: INK, font: tickFont(), callback: v => String(v)}
        },
        y: {
          type: 'linear', min: p.ymin, max: p.ymax,
          afterBuildTicks: s => { s.ticks = p.yTicks.map(v => ({value: v})); },
          afterFit: s => { s.width = L - left; },
          grid: {color: GRID, lineWidth: 1.2, drawTicks: false},
          border: {display: false},
          ticks: {autoSkip: false, padding: 7, color: INK, font: tickFont(), callback: v => Number(v).toFixed(p.digits)}
        }
      }
    },
    plugins: [decor]
  });
}

function buildInset(p) {
  const q = p.inset;
  const [L, T, R, B] = q.area;
  const left = Math.floor(L) - 48, top = Math.floor(T) - 12;
  const w = Math.ceil(R - left + 6), h = Math.ceil(B - top + 26);
  const cv = addCanvas(left, top, w, h, 2);
  const decor = {
    id: 'inset' + p.key,
    beforeDraw(chart) {
      const {ctx, chartArea: a} = chart;
      const y = chart.scales.y;
      ctx.save();
      ctx.fillStyle = '#ffffff';
      ctx.fillRect(a.left - 22, a.top - 4, a.right - a.left + 26, a.bottom - a.top + 24);
      ctx.font = '15px ' + FONT;
      q.yTicks.forEach(t => {
        const tw = ctx.measureText(t.toFixed(2)).width;
        const py = y.getPixelForValue(t) + 5;
        ctx.fillRect(a.left - 7 - tw, py - 8, tw + 3, 16);
      });
      ctx.fillStyle = '#c0c0c0';
      ctx.fillRect(a.left, a.top, a.right - a.left, a.bottom - a.top);
      ctx.restore();
    },
    afterDatasetsDraw(chart) {
      const {ctx, chartArea: a} = chart;
      ctx.save();
      ctx.strokeStyle = '#000'; ctx.lineWidth = 1;
      inwardTicks(ctx, a, chart.scales.y, q.yTicks, q.yMinor, q.ymin, q.ymax, chart.scales.x, 2, 1, 9);
      ctx.lineWidth = 2;
      ctx.strokeRect(a.left, a.top, a.right - a.left, a.bottom - a.top);
      ctx.restore();
    }
  };
  new Chart(cv.getContext('2d'), {
    type: 'line',
    data: {datasets: datasets(p.series, 'inset')},
    options: {
      responsive: false, animation: false, devicePixelRatio: 1, events: [],
      layout: {padding: {left: 0, top: T - top, right: w - (R - left), bottom: 0}},
      plugins: {legend: {display: false}, tooltip: {enabled: false}},
      scales: {
        x: {
          type: 'linear', min: 1, max: 9,
          afterBuildTicks: s => { s.ticks = insetXTicks.map(v => ({value: v})); },
          afterFit: s => { s.height = h - (B - top); },
          grid: {display: false, drawTicks: false},
          border: {display: false},
          ticks: {autoSkip: false, maxRotation: 0, padding: 5, color: INK, font: tickFont(), callback: v => String(v)}
        },
        y: {
          type: 'linear', min: q.ymin, max: q.ymax,
          afterBuildTicks: s => { s.ticks = q.yTicks.map(v => ({value: v})); },
          afterFit: s => { s.width = L - left; },
          grid: {display: false, drawTicks: false},
          border: {display: false},
          ticks: {autoSkip: false, padding: 6, labelOffset: 5, color: INK, font: tickFont(), callback: v => Number(v).toFixed(2)}
        }
      }
    },
    plugins: [decor]
  });
}

panels.forEach(p => { buildMain(p); buildInset(p); });
</script>
</body>
</html>
